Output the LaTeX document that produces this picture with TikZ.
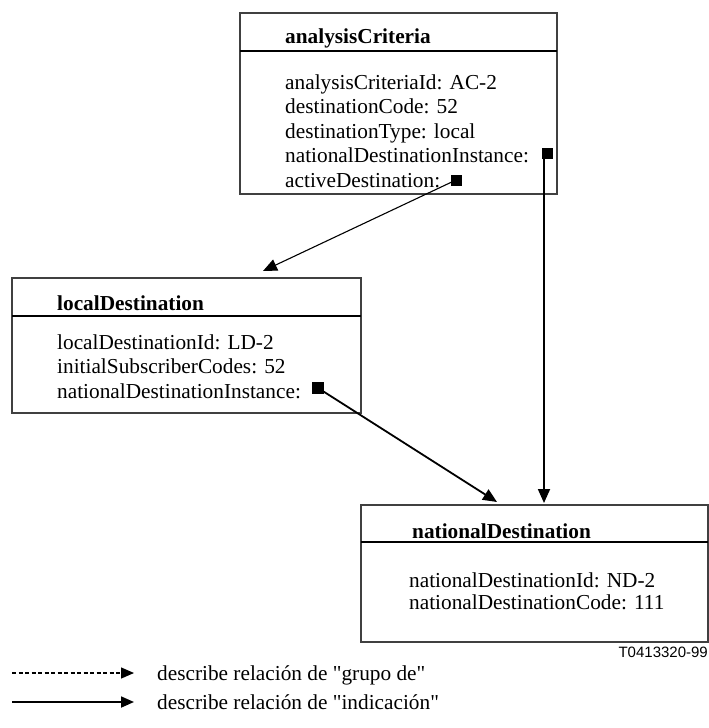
\documentclass[tikz,border=0pt]{standalone}
\usepackage{fontspec}
\setmainfont{Liberation Serif}
\newfontfamily\arialfont{Liberation Sans}
\usetikzlibrary{arrows.meta}
\begin{document}
\begin{tikzpicture}[x=1pt,y=-1pt,
  box/.style={draw=black!75, line width=1.3pt, anchor=north west, inner sep=0, outer sep=0},
  divider/.style={line width=2pt},
  title/.style={anchor=base west, inner sep=0, font=\fontsize{21.3}{24.5}\selectfont\bfseries},
  body/.style={anchor=base west, inner sep=0, font=\fontsize{21.3}{24.5}\selectfont},
  marker/.style={fill=black, minimum size=11pt, inner sep=0, outer sep=0},
  conn/.style={line width=1.8pt, -{Triangle[length=14pt,width=12pt]}},
  connthin/.style={line width=1.1pt, -{Triangle[length=14pt,width=12pt]}},
  legdash/.style={line width=1.3pt, dash pattern=on 4pt off 2.5pt, -{Triangle[length=13pt,width=11pt]}},
  legsolid/.style={line width=1.8pt, -{Triangle[length=13pt,width=11pt]}},
]
\useasboundingbox (0,0) rectangle (709,728);

% analysisCriteria
\node[box, minimum width=317pt, minimum height=181pt] (ac) at (240,13) {};
\draw[divider] (ac.west |- 0,51) -- (ac.east |- 0,51);
\node[title] (actitle) at (285,43) {analysisCriteria};
\node[body] (ac1) at (285,89) {analysisCriteriaId: AC-2};
\node[body] (ac2) at (285,113.5) {destinationCode: 52};
\node[body] (ac3) at (285,138) {destinationType: local};
\node[body] (ac4) at (285,162.5) {nationalDestinationInstance:};
\node[body] (ac5) at (285,187) {activeDestination:};
\node[marker] (mnat) at (547,153) {};
\node[marker] (mact) at (456,180) {};

% localDestination
\node[box, minimum width=349pt, minimum height=135pt] (ld) at (12,278) {};
\draw[divider] (ld.west |- 0,316) -- (ld.east |- 0,316);
\node[title] (ldtitle) at (57,310) {localDestination};
\node[body] (ld1) at (57,349) {localDestinationId: LD-2};
\node[body] (ld2) at (57,373.5) {initialSubscriberCodes: 52};
\node[body] (ld3) at (57,398) {nationalDestinationInstance:};
\node[marker, minimum size=12pt] (mld) at (318,388) {};

% nationalDestination
\node[box, minimum width=347pt, minimum height=137pt] (nd) at (361,505) {};
\draw[divider] (nd.west |- 0,542) -- (nd.east |- 0,542);
\node[title] (ndtitle) at (412,538) {nationalDestination};
\node[body] (nd1) at (409,587) {nationalDestinationId: ND-2};
\node[body] (nd2) at (409,609.5) {nationalDestinationCode: 111};

\node[anchor=base east, inner sep=0, font=\arialfont\fontsize{15}{18}\selectfont] (code) at (708,657) {T0413320-99};

% connectors
\coordinate (t1) at (263,271);
\coordinate (t2) at (497,502);
\coordinate (t3) at (544,503);
\draw[connthin] (mact.center) -- (t1);
\draw[conn] (mld.center) -- (t2);
\draw[conn] (mnat.center -| t3) -- (t3);

% legend
\coordinate (l1a) at (12,673);
\coordinate (l1b) at (134,673);
\coordinate (l2a) at (12,702);
\coordinate (l2b) at (134,702);
\draw[legdash] (l1a) -- (l1b);
\draw[legsolid] (l2a) -- (l2b);
\node[body] (leg1) at (157,680) {describe relación de \textquotedbl grupo de\textquotedbl};
\node[body] (leg2) at (157,709) {describe relación de \textquotedbl indicación\textquotedbl};
\end{tikzpicture}
\end{document}
